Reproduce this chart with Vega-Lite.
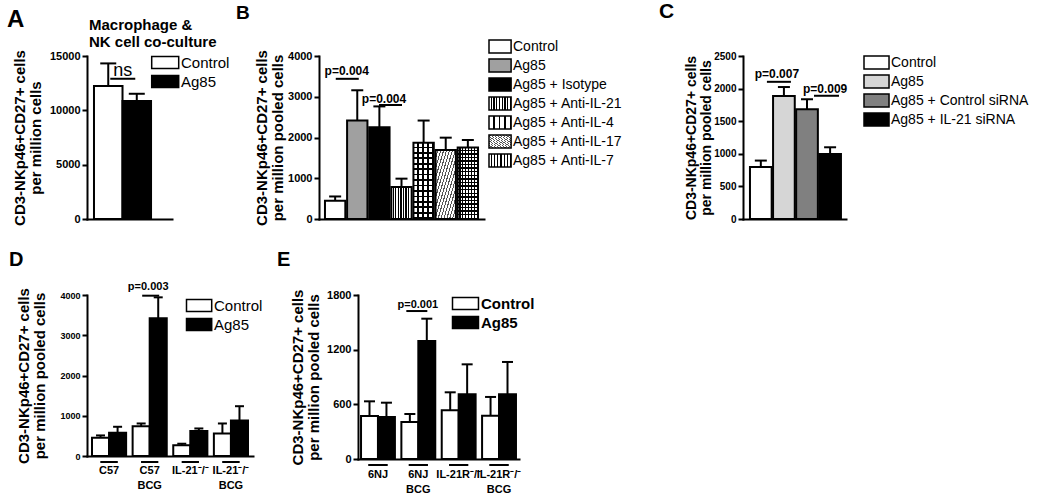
{
  "$schema": "https://vega.github.io/schema/vega-lite/v6.json",
  "background": "white",
  "padding": {"left": 7, "top": 1, "right": 2, "bottom": 2},
  "config": {
    "font": "Liberation Sans",
    "view": {"stroke": null},
    "axis": {"domainColor": "black", "domainWidth": 2, "domainCap": "square", "tickColor": "black", "tickWidth": 2, "tickSize": 5, "labelColor": "black", "labelFontWeight": "bold", "labelFontSize": 11, "labelPadding": 2, "titleColor": "black", "titleFontWeight": "bold", "titleFontSize": 15, "titleLineHeight": 16, "grid": false, "labelOverlap": false},
    "legend": {"orient": "none", "padding": 0, "symbolStrokeColor": "black", "symbolStrokeWidth": 1.5, "labelColor": "black", "labelFontSize": 15, "rowPadding": 0, "symbolOpacity": 1},
    "title": {"anchor": "start", "frame": "group", "fontWeight": "bold", "color": "black", "font": "Liberation Sans"}
  },
  "resolve": {"scale": {"fill": "independent", "xOffset": "independent", "x": "independent", "y": "independent"}, "legend": {"fill": "independent"}},
  "bounds": "full",
  "spacing": 23,
  "vconcat": [
    {
      "hconcat": [
        {
          "width": 232, "height": 163,
          "title": {"text": "A", "fontSize": 24, "dx": -80, "dy": 18},
          "data": {"values": [{"cond": "Control", "v": 12234, "err": 14318}, {"cond": "Ag85", "v": 10851, "err": 11524}]},
          "encoding": {"x": {"field": "cond", "type": "nominal", "scale": {"domain": ["Control", "Ag85"], "range": [0, 85], "paddingInner": 0, "paddingOuter": 0.49, "align": 0.25}, "axis": {"labels": false, "ticks": false, "title": null}}},
          "layer": [
            {"mark": {"type": "rule", "color": "black", "strokeWidth": 2}, "encoding": {"y": {"field": "v", "type": "quantitative", "scale": {"domain": [0, 15000], "nice": false}, "axis": {"values": [0, 5000, 10000, 15000], "format": "d", "labelOverlap": false, "title": ["CD3-NKp46+CD27+ cells", "per million cells"], "titlePadding": 6, "labelFontSize": 11}}, "y2": {"field": "err"}}},
            {"mark": {"type": "tick", "color": "black", "opacity": 1, "thickness": 2, "size": 16}, "encoding": {"y": {"field": "err", "type": "quantitative"}}},
            {"mark": {"type": "bar", "stroke": "black", "strokeWidth": 2}, "encoding": {"y": {"field": "v", "type": "quantitative"}, "fill": {"field": "cond", "type": "nominal", "scale": {"domain": ["Control", "Ag85"], "range": ["white", "black"]}, "legend": {"legendX": 2, "legendY": -38, "title": ["Macrophage &", "NK cell co-culture"], "titleFontSize": 15, "titleFontWeight": "bold", "titleLineHeight": 17, "titlePadding": 5, "titleAnchor": "start", "titleAlign": "left", "titleColor": "black", "titleLimit": 300, "symbolType": "M9.2,-1H13.7V1H9.2Z", "symbolSize": 144, "labelOffset": 77, "labelFontSize": 15}}}},
            {"data": {"values": [{}]}, "mark": {"type": "tick", "orient": "horizontal", "color": "black", "opacity": 1, "thickness": 2, "size": 25, "xOffset": -14}, "encoding": {"x": {"datum": "Ag85"}, "y": {"datum": 12906}}},
            {"data": {"values": [{}]}, "mark": {"type": "text", "text": "ns", "fontSize": 18, "color": "black", "baseline": "alphabetic", "dx": -14, "dy": -3}, "encoding": {"x": {"datum": "Ag85"}, "y": {"datum": 12906}}}
          ]
        },
        {
          "width": 424, "height": 163,
          "title": {"text": "B", "fontSize": 19, "dx": -83, "dy": -12},
          "data": {"values": [
            {"cond": "Control", "v": 450, "err": 553},
            {"cond": "Ag85", "v": 2416, "err": 3159},
            {"cond": "Ag85 + Isotype", "v": 2252, "err": 2763},
            {"cond": "Ag85 + Anti-IL-21", "v": 784, "err": 990},
            {"cond": "Ag85 + Anti-IL-4", "v": 1872, "err": 2416},
            {"cond": "Ag85 + Anti-IL-17", "v": 1691, "err": 1996},
            {"cond": "Ag85 + Anti-IL-7", "v": 1757, "err": 1938}
          ]},
          "encoding": {"x": {"field": "cond", "type": "nominal", "scale": {"domain": ["Control", "Ag85", "Ag85 + Isotype", "Ag85 + Anti-IL-21", "Ag85 + Anti-IL-4", "Ag85 + Anti-IL-17", "Ag85 + Anti-IL-7"], "range": [0, 165], "paddingInner": 0.08, "paddingOuter": 0.27}, "axis": {"labels": false, "ticks": false, "title": null}}},
          "layer": [
            {"mark": {"type": "rule", "color": "black", "strokeWidth": 2}, "encoding": {"y": {"field": "v", "type": "quantitative", "scale": {"domain": [0, 4000], "nice": false}, "axis": {"values": [0, 1000, 2000, 3000, 4000], "format": "d", "labelOverlap": false, "title": ["CD3-NKp46+CD27+ cells", "per million pooled cells"], "titlePadding": 2, "labelFontSize": 11}}, "y2": {"field": "err"}}},
            {"mark": {"type": "tick", "color": "black", "opacity": 1, "thickness": 2, "size": 12}, "encoding": {"y": {"field": "err", "type": "quantitative"}}},
            {"mark": {"type": "bar", "stroke": "black", "strokeWidth": 2}, "encoding": {"y": {"field": "v", "type": "quantitative"}, "fill": {"field": "cond", "type": "nominal", "scale": {"domain": ["Control", "Ag85", "Ag85 + Isotype", "Ag85 + Anti-IL-21", "Ag85 + Anti-IL-4", "Ag85 + Anti-IL-17", "Ag85 + Anti-IL-7"], "range": [
              "#ffffff", "#a0a0a0", "#000000",
              {"expr": "{gradient:'linear',x1:0,y1:0,x2:1,y2:0,stops:[{offset:0,color:'#fff'},{offset:0.069,color:'#fff'},{offset:0.069,color:'#000'},{offset:0.125,color:'#000'},{offset:0.125,color:'#fff'},{offset:0.194,color:'#fff'},{offset:0.194,color:'#000'},{offset:0.25,color:'#000'},{offset:0.25,color:'#fff'},{offset:0.319,color:'#fff'},{offset:0.319,color:'#000'},{offset:0.375,color:'#000'},{offset:0.375,color:'#fff'},{offset:0.444,color:'#fff'},{offset:0.444,color:'#000'},{offset:0.5,color:'#000'},{offset:0.5,color:'#fff'},{offset:0.569,color:'#fff'},{offset:0.569,color:'#000'},{offset:0.625,color:'#000'},{offset:0.625,color:'#fff'},{offset:0.694,color:'#fff'},{offset:0.694,color:'#000'},{offset:0.75,color:'#000'},{offset:0.75,color:'#fff'},{offset:0.819,color:'#fff'},{offset:0.819,color:'#000'},{offset:0.875,color:'#000'},{offset:0.875,color:'#fff'},{offset:0.944,color:'#fff'},{offset:0.944,color:'#000'},{offset:1,color:'#000'}]}"},
              {"expr": "{gradient:'linear',x1:0,y1:0,x2:1,y2:0,stops:[{offset:0,color:'#fff'},{offset:0.18,color:'#fff'},{offset:0.18,color:'#000'},{offset:0.25,color:'#000'},{offset:0.25,color:'#fff'},{offset:0.43,color:'#fff'},{offset:0.43,color:'#000'},{offset:0.5,color:'#000'},{offset:0.5,color:'#fff'},{offset:0.68,color:'#fff'},{offset:0.68,color:'#000'},{offset:0.75,color:'#000'},{offset:0.75,color:'#fff'},{offset:0.93,color:'#fff'},{offset:0.93,color:'#000'},{offset:1,color:'#000'}]}"},
              {"expr": "{gradient:'linear',x1:0,y1:0,x2:1,y2:1,stops:[{offset:0,color:'#fff'},{offset:0.045,color:'#fff'},{offset:0.045,color:'#555'},{offset:0.0714,color:'#555'},{offset:0.0714,color:'#fff'},{offset:0.1164,color:'#fff'},{offset:0.1164,color:'#555'},{offset:0.1429,color:'#555'},{offset:0.1429,color:'#fff'},{offset:0.1879,color:'#fff'},{offset:0.1879,color:'#555'},{offset:0.2143,color:'#555'},{offset:0.2143,color:'#fff'},{offset:0.2593,color:'#fff'},{offset:0.2593,color:'#555'},{offset:0.2857,color:'#555'},{offset:0.2857,color:'#fff'},{offset:0.3307,color:'#fff'},{offset:0.3307,color:'#555'},{offset:0.3571,color:'#555'},{offset:0.3571,color:'#fff'},{offset:0.4021,color:'#fff'},{offset:0.4021,color:'#555'},{offset:0.4286,color:'#555'},{offset:0.4286,color:'#fff'},{offset:0.4736,color:'#fff'},{offset:0.4736,color:'#555'},{offset:0.5,color:'#555'},{offset:0.5,color:'#fff'},{offset:0.545,color:'#fff'},{offset:0.545,color:'#555'},{offset:0.5714,color:'#555'},{offset:0.5714,color:'#fff'},{offset:0.6164,color:'#fff'},{offset:0.6164,color:'#555'},{offset:0.6429,color:'#555'},{offset:0.6429,color:'#fff'},{offset:0.6879,color:'#fff'},{offset:0.6879,color:'#555'},{offset:0.7143,color:'#555'},{offset:0.7143,color:'#fff'},{offset:0.7593,color:'#fff'},{offset:0.7593,color:'#555'},{offset:0.7857,color:'#555'},{offset:0.7857,color:'#fff'},{offset:0.8307,color:'#fff'},{offset:0.8307,color:'#555'},{offset:0.8571,color:'#555'},{offset:0.8571,color:'#fff'},{offset:0.9021,color:'#fff'},{offset:0.9021,color:'#555'},{offset:0.9286,color:'#555'},{offset:0.9286,color:'#fff'},{offset:0.9736,color:'#fff'},{offset:0.9736,color:'#555'},{offset:1,color:'#555'}]}"},
              {"expr": "{gradient:'linear',x1:0,y1:0,x2:1,y2:0,stops:[{offset:0,color:'#fff'},{offset:0.086,color:'#fff'},{offset:0.086,color:'#000'},{offset:0.143,color:'#000'},{offset:0.143,color:'#fff'},{offset:0.229,color:'#fff'},{offset:0.229,color:'#000'},{offset:0.286,color:'#000'},{offset:0.286,color:'#fff'},{offset:0.371,color:'#fff'},{offset:0.371,color:'#000'},{offset:0.429,color:'#000'},{offset:0.429,color:'#fff'},{offset:0.514,color:'#fff'},{offset:0.514,color:'#000'},{offset:0.571,color:'#000'},{offset:0.571,color:'#fff'},{offset:0.657,color:'#fff'},{offset:0.657,color:'#000'},{offset:0.714,color:'#000'},{offset:0.714,color:'#fff'},{offset:0.8,color:'#fff'},{offset:0.8,color:'#000'},{offset:0.857,color:'#000'},{offset:0.857,color:'#fff'},{offset:0.943,color:'#fff'},{offset:0.943,color:'#000'},{offset:1,color:'#000'}]}"}
            ]}, "legend": {"legendX": 169, "legendY": -17, "title": null, "symbolType": "M-1,-1H2.4V1H-1Z", "symbolSize": 169, "labelOffset": 10, "labelFontSize": 14}}}},
            {"transform": [{"filter": "datum.cond === 'Ag85 + Anti-IL-4'"}], "mark": {"type": "bar", "strokeWidth": 0, "fill": {"gradient": "linear", "x1": 1, "y1": 0, "x2": 1, "y2": 1, "stops": [
              {"offset": 0, "color": "rgba(0,0,0,0)"}, {"offset": 0.05, "color": "rgba(0,0,0,0)"}, {"offset": 0.05, "color": "#000"}, {"offset": 0.0714, "color": "#000"},
              {"offset": 0.0714, "color": "rgba(0,0,0,0)"}, {"offset": 0.1214, "color": "rgba(0,0,0,0)"}, {"offset": 0.1214, "color": "#000"}, {"offset": 0.1429, "color": "#000"},
              {"offset": 0.1429, "color": "rgba(0,0,0,0)"}, {"offset": 0.1929, "color": "rgba(0,0,0,0)"}, {"offset": 0.1929, "color": "#000"}, {"offset": 0.2143, "color": "#000"},
              {"offset": 0.2143, "color": "rgba(0,0,0,0)"}, {"offset": 0.2643, "color": "rgba(0,0,0,0)"}, {"offset": 0.2643, "color": "#000"}, {"offset": 0.2857, "color": "#000"},
              {"offset": 0.2857, "color": "rgba(0,0,0,0)"}, {"offset": 0.3357, "color": "rgba(0,0,0,0)"}, {"offset": 0.3357, "color": "#000"}, {"offset": 0.3571, "color": "#000"},
              {"offset": 0.3571, "color": "rgba(0,0,0,0)"}, {"offset": 0.4071, "color": "rgba(0,0,0,0)"}, {"offset": 0.4071, "color": "#000"}, {"offset": 0.4286, "color": "#000"},
              {"offset": 0.4286, "color": "rgba(0,0,0,0)"}, {"offset": 0.4786, "color": "rgba(0,0,0,0)"}, {"offset": 0.4786, "color": "#000"}, {"offset": 0.5, "color": "#000"},
              {"offset": 0.5, "color": "rgba(0,0,0,0)"}, {"offset": 0.55, "color": "rgba(0,0,0,0)"}, {"offset": 0.55, "color": "#000"}, {"offset": 0.5714, "color": "#000"},
              {"offset": 0.5714, "color": "rgba(0,0,0,0)"}, {"offset": 0.6214, "color": "rgba(0,0,0,0)"}, {"offset": 0.6214, "color": "#000"}, {"offset": 0.6429, "color": "#000"},
              {"offset": 0.6429, "color": "rgba(0,0,0,0)"}, {"offset": 0.6929, "color": "rgba(0,0,0,0)"}, {"offset": 0.6929, "color": "#000"}, {"offset": 0.7143, "color": "#000"},
              {"offset": 0.7143, "color": "rgba(0,0,0,0)"}, {"offset": 0.7643, "color": "rgba(0,0,0,0)"}, {"offset": 0.7643, "color": "#000"}, {"offset": 0.7857, "color": "#000"},
              {"offset": 0.7857, "color": "rgba(0,0,0,0)"}, {"offset": 0.8357, "color": "rgba(0,0,0,0)"}, {"offset": 0.8357, "color": "#000"}, {"offset": 0.8571, "color": "#000"},
              {"offset": 0.8571, "color": "rgba(0,0,0,0)"}, {"offset": 0.9071, "color": "rgba(0,0,0,0)"}, {"offset": 0.9071, "color": "#000"}, {"offset": 0.9286, "color": "#000"},
              {"offset": 0.9286, "color": "rgba(0,0,0,0)"}, {"offset": 0.9786, "color": "rgba(0,0,0,0)"}, {"offset": 0.9786, "color": "#000"}, {"offset": 1, "color": "#000"}
            ]}}, "encoding": {"y": {"field": "v", "type": "quantitative"}}},
            {"transform": [{"filter": "datum.cond === 'Ag85 + Anti-IL-7'"}], "mark": {"type": "bar", "strokeWidth": 0, "fill": {"gradient": "linear", "x1": 1, "y1": 0, "x2": 1, "y2": 1, "stops": [
              {"offset": 0, "color": "rgba(0,0,0,0)"}, {"offset": 0.03, "color": "rgba(0,0,0,0)"}, {"offset": 0.03, "color": "#000"}, {"offset": 0.05, "color": "#000"},
              {"offset": 0.05, "color": "rgba(0,0,0,0)"}, {"offset": 0.08, "color": "rgba(0,0,0,0)"}, {"offset": 0.08, "color": "#000"}, {"offset": 0.1, "color": "#000"},
              {"offset": 0.1, "color": "rgba(0,0,0,0)"}, {"offset": 0.13, "color": "rgba(0,0,0,0)"}, {"offset": 0.13, "color": "#000"}, {"offset": 0.15, "color": "#000"},
              {"offset": 0.15, "color": "rgba(0,0,0,0)"}, {"offset": 0.18, "color": "rgba(0,0,0,0)"}, {"offset": 0.18, "color": "#000"}, {"offset": 0.2, "color": "#000"},
              {"offset": 0.2, "color": "rgba(0,0,0,0)"}, {"offset": 0.23, "color": "rgba(0,0,0,0)"}, {"offset": 0.23, "color": "#000"}, {"offset": 0.25, "color": "#000"},
              {"offset": 0.25, "color": "rgba(0,0,0,0)"}, {"offset": 0.28, "color": "rgba(0,0,0,0)"}, {"offset": 0.28, "color": "#000"}, {"offset": 0.3, "color": "#000"},
              {"offset": 0.3, "color": "rgba(0,0,0,0)"}, {"offset": 0.33, "color": "rgba(0,0,0,0)"}, {"offset": 0.33, "color": "#000"}, {"offset": 0.35, "color": "#000"},
              {"offset": 0.35, "color": "rgba(0,0,0,0)"}, {"offset": 0.38, "color": "rgba(0,0,0,0)"}, {"offset": 0.38, "color": "#000"}, {"offset": 0.4, "color": "#000"},
              {"offset": 0.4, "color": "rgba(0,0,0,0)"}, {"offset": 0.43, "color": "rgba(0,0,0,0)"}, {"offset": 0.43, "color": "#000"}, {"offset": 0.45, "color": "#000"},
              {"offset": 0.45, "color": "rgba(0,0,0,0)"}, {"offset": 0.48, "color": "rgba(0,0,0,0)"}, {"offset": 0.48, "color": "#000"}, {"offset": 0.5, "color": "#000"},
              {"offset": 0.5, "color": "rgba(0,0,0,0)"}, {"offset": 0.53, "color": "rgba(0,0,0,0)"}, {"offset": 0.53, "color": "#000"}, {"offset": 0.55, "color": "#000"},
              {"offset": 0.55, "color": "rgba(0,0,0,0)"}, {"offset": 0.58, "color": "rgba(0,0,0,0)"}, {"offset": 0.58, "color": "#000"}, {"offset": 0.6, "color": "#000"},
              {"offset": 0.6, "color": "rgba(0,0,0,0)"}, {"offset": 0.63, "color": "rgba(0,0,0,0)"}, {"offset": 0.63, "color": "#000"}, {"offset": 0.65, "color": "#000"},
              {"offset": 0.65, "color": "rgba(0,0,0,0)"}, {"offset": 0.68, "color": "rgba(0,0,0,0)"}, {"offset": 0.68, "color": "#000"}, {"offset": 0.7, "color": "#000"},
              {"offset": 0.7, "color": "rgba(0,0,0,0)"}, {"offset": 0.73, "color": "rgba(0,0,0,0)"}, {"offset": 0.73, "color": "#000"}, {"offset": 0.75, "color": "#000"},
              {"offset": 0.75, "color": "rgba(0,0,0,0)"}, {"offset": 0.78, "color": "rgba(0,0,0,0)"}, {"offset": 0.78, "color": "#000"}, {"offset": 0.8, "color": "#000"},
              {"offset": 0.8, "color": "rgba(0,0,0,0)"}, {"offset": 0.83, "color": "rgba(0,0,0,0)"}, {"offset": 0.83, "color": "#000"}, {"offset": 0.85, "color": "#000"},
              {"offset": 0.85, "color": "rgba(0,0,0,0)"}, {"offset": 0.88, "color": "rgba(0,0,0,0)"}, {"offset": 0.88, "color": "#000"}, {"offset": 0.9, "color": "#000"},
              {"offset": 0.9, "color": "rgba(0,0,0,0)"}, {"offset": 0.93, "color": "rgba(0,0,0,0)"}, {"offset": 0.93, "color": "#000"}, {"offset": 0.95, "color": "#000"},
              {"offset": 0.95, "color": "rgba(0,0,0,0)"}, {"offset": 0.98, "color": "rgba(0,0,0,0)"}, {"offset": 0.98, "color": "#000"}, {"offset": 1, "color": "#000"}
            ]}}, "encoding": {"y": {"field": "v", "type": "quantitative"}}},
            {"data": {"values": [{}]}, "mark": {"type": "tick", "orient": "horizontal", "color": "black", "opacity": 1, "thickness": 2, "size": 23, "xOffset": -10}, "encoding": {"x": {"datum": "Ag85"}, "y": {"datum": 3440}}},
            {"data": {"values": [{}]}, "mark": {"type": "text", "text": "p=0.004", "fontSize": 12, "fontWeight": "bold", "color": "black", "baseline": "alphabetic", "dx": -10.5, "dy": -3.5}, "encoding": {"x": {"datum": "Ag85"}, "y": {"datum": 3440}}},
            {"data": {"values": [{}]}, "mark": {"type": "tick", "orient": "horizontal", "color": "black", "opacity": 1, "thickness": 2, "size": 23, "xOffset": -11}, "encoding": {"x": {"datum": "Ag85 + Anti-IL-21"}, "y": {"datum": 2797}}},
            {"data": {"values": [{}]}, "mark": {"type": "text", "text": "p=0.004", "fontSize": 12, "fontWeight": "bold", "color": "black", "baseline": "alphabetic", "dx": -17.5, "dy": -2}, "encoding": {"x": {"datum": "Ag85 + Anti-IL-21"}, "y": {"datum": 2797}}}
          ]
        },
        {
          "width": 103, "height": 163,
          "title": {"text": "C", "fontSize": 21, "dx": -84, "dy": -25},
          "data": {"values": [
            {"cond": "Control", "v": 796, "err": 896},
            {"cond": "Ag85", "v": 1886, "err": 2024},
            {"cond": "Ag85 + Control siRNA", "v": 1682, "err": 1838},
            {"cond": "Ag85 + IL-21 siRNA", "v": 998, "err": 1100}
          ]},
          "encoding": {"x": {"field": "cond", "type": "nominal", "scale": {"domain": ["Control", "Ag85", "Ag85 + Control siRNA", "Ag85 + IL-21 siRNA"], "paddingInner": 0.06, "paddingOuter": 0.26, "align": 0.58}, "axis": {"labels": false, "ticks": false, "title": null}}},
          "layer": [
            {"mark": {"type": "rule", "color": "black", "strokeWidth": 2}, "encoding": {"y": {"field": "v", "type": "quantitative", "scale": {"domain": [0, 2500], "nice": false}, "axis": {"values": [0, 500, 1000, 1500, 2000, 2500], "tickCount": 6, "format": "d", "labelOverlap": false, "labelSeparation": 0, "title": ["CD3-NKp46+CD27+ cells", "per million pooled cells"], "titlePadding": 0, "labelFontSize": 10, "titleFontSize": 14, "titleLineHeight": 15}}, "y2": {"field": "err"}}},
            {"mark": {"type": "tick", "color": "black", "opacity": 1, "thickness": 2, "size": 12}, "encoding": {"y": {"field": "err", "type": "quantitative"}}},
            {"mark": {"type": "bar", "stroke": "black", "strokeWidth": 2}, "encoding": {"y": {"field": "v", "type": "quantitative"}, "fill": {"field": "cond", "type": "nominal", "scale": {"domain": ["Control", "Ag85", "Ag85 + Control siRNA", "Ag85 + IL-21 siRNA"], "range": ["#ffffff", "#d6d6d6", "#808080", "#000000"]}, "legend": {"legendX": 120, "legendY": -1, "title": null, "symbolType": "M-1,-1H2.85V1H-1Z", "symbolSize": 169, "labelOffset": 13, "labelFontSize": 14}}}},
            {"data": {"values": [{}]}, "mark": {"type": "tick", "orient": "horizontal", "color": "black", "opacity": 1, "thickness": 2, "size": 24, "xOffset": -5}, "encoding": {"x": {"datum": "Ag85"}, "y": {"datum": 2104}}},
            {"data": {"values": [{}]}, "mark": {"type": "text", "text": "p=0.007", "fontSize": 12, "fontWeight": "bold", "color": "black", "baseline": "alphabetic", "dx": -7, "dy": -4}, "encoding": {"x": {"datum": "Ag85"}, "y": {"datum": 2104}}},
            {"data": {"values": [{}]}, "mark": {"type": "tick", "orient": "horizontal", "color": "black", "opacity": 1, "thickness": 2, "size": 25, "xOffset": -3.6}, "encoding": {"x": {"datum": "Ag85 + IL-21 siRNA"}, "y": {"datum": 1890}}},
            {"data": {"values": [{}]}, "mark": {"type": "text", "text": "p=0.009", "fontSize": 12, "fontWeight": "bold", "color": "black", "baseline": "alphabetic", "dx": -5, "dy": -2.5}, "encoding": {"x": {"datum": "Ag85 + IL-21 siRNA"}, "y": {"datum": 1890}}}
          ]
        }
      ],
      "bounds": "flush",
      "spacing": 0,
      "resolve": {"scale": {"fill": "independent", "x": "independent", "y": "independent"}, "legend": {"fill": "independent"}}
    },
    {
      "hconcat": [
        {
          "width": 271, "height": 161,
          "title": {"text": "D", "fontSize": 20, "dx": -78, "dy": -7},
          "data": {"values": [
            {"grp": "C57", "cond": "Control", "v": 454, "err": 511},
            {"grp": "C57", "cond": "Ag85", "v": 577, "err": 726},
            {"grp": "C57 BCG", "cond": "Control", "v": 742, "err": 808},
            {"grp": "C57 BCG", "cond": "Ag85", "v": 3423, "err": 3942},
            {"grp": "IL-21⁻/⁻", "cond": "Control", "v": 264, "err": 305},
            {"grp": "IL-21⁻/⁻", "cond": "Ag85", "v": 619, "err": 684},
            {"grp": "IL-21⁻/⁻ BCG", "cond": "Control", "v": 561, "err": 808},
            {"grp": "IL-21⁻/⁻ BCG", "cond": "Ag85", "v": 882, "err": 1237}
          ]},
          "encoding": {
            "x": {"field": "grp", "type": "nominal", "scale": {"domain": ["C57", "C57 BCG", "IL-21⁻/⁻", "IL-21⁻/⁻ BCG"], "range": [0, 166], "paddingInner": 0.16, "paddingOuter": 0.123}, "axis": {"labelExpr": "split(datum.label, ' ')", "labelFontSize": 11, "labelLineHeight": 15, "labelPadding": 8, "ticks": false, "tickSize": 0, "title": null, "labelAngle": 0, "labelBaseline": "top", "labelOverlap": false}}
          },
          "layer": [
            {"mark": {"type": "rule", "color": "black", "strokeWidth": 2}, "encoding": {"xOffset": {"field": "cond", "type": "nominal", "scale": {"domain": ["Control", "Ag85"]}}, "y": {"field": "v", "type": "quantitative", "scale": {"domain": [0, 4000], "nice": false}, "axis": {"values": [0, 1000, 2000, 3000, 4000], "format": "d", "labelOverlap": false, "title": ["CD3-NKp46+CD27+ cells", "per million pooled cells"], "titlePadding": 12, "labelFontSize": 9}}, "y2": {"field": "err"}}},
            {"mark": {"type": "tick", "color": "black", "opacity": 1, "thickness": 2, "size": 9}, "encoding": {"xOffset": {"field": "cond", "type": "nominal", "scale": {"domain": ["Control", "Ag85"]}}, "y": {"field": "err", "type": "quantitative"}}},
            {"mark": {"type": "bar", "stroke": "black", "strokeWidth": 2}, "encoding": {"xOffset": {"field": "cond", "type": "nominal", "scale": {"domain": ["Control", "Ag85"]}}, "y": {"field": "v", "type": "quantitative"}, "fill": {"field": "cond", "type": "nominal", "scale": {"domain": ["Control", "Ag85"], "range": ["white", "black"]}, "legend": {"legendX": 98, "legendY": 3, "title": null, "symbolType": "M-1,-1H3.2V1H-1Z", "symbolSize": 144, "labelOffset": 14, "labelFontSize": 15}}}},
            {"mark": {"type": "tick", "orient": "horizontal", "color": "black", "opacity": 1, "thickness": 2, "size": 17, "yOffset": 6}, "encoding": {"y": {"datum": 0}}},
            {"data": {"values": [{}]}, "mark": {"type": "tick", "orient": "horizontal", "color": "black", "opacity": 1, "thickness": 2, "size": 17, "xOffset": 1}, "encoding": {"x": {"datum": "C57 BCG"}, "y": {"datum": 3983}}},
            {"data": {"values": [{}]}, "mark": {"type": "text", "text": "p=0.003", "fontSize": 11, "fontWeight": "bold", "color": "black", "baseline": "alphabetic", "dx": -1.5, "dy": -6}, "encoding": {"x": {"datum": "C57 BCG"}, "y": {"datum": 3983}}}
          ]
        },
        {
          "width": 161, "height": 164,
          "title": {"text": "E", "fontSize": 20, "dx": -81, "dy": -15},
          "data": {"values": [
            {"grp": "6NJ", "cond": "Control", "v": 472, "err": 633},
            {"grp": "6NJ", "cond": "Ag85", "v": 461, "err": 618},
            {"grp": "6NJ BCG", "cond": "Control", "v": 406, "err": 494},
            {"grp": "6NJ BCG", "cond": "Ag85", "v": 1295, "err": 1540},
            {"grp": "IL-21R⁻/⁻", "cond": "Control", "v": 534, "err": 732},
            {"grp": "IL-21R⁻/⁻", "cond": "Ag85", "v": 710, "err": 1039},
            {"grp": "IL-21R⁻/⁻ BCG", "cond": "Control", "v": 476, "err": 681},
            {"grp": "IL-21R⁻/⁻ BCG", "cond": "Ag85", "v": 710, "err": 1065}
          ]},
          "encoding": {
            "x": {"field": "grp", "type": "nominal", "scale": {"domain": ["6NJ", "6NJ BCG", "IL-21R⁻/⁻", "IL-21R⁻/⁻ BCG"], "paddingInner": 0.16, "paddingOuter": 0.075}, "axis": {"labelExpr": "split(datum.label, ' ')", "labelFontSize": 11, "labelLineHeight": 15, "labelPadding": 9, "ticks": false, "tickSize": 0, "title": null, "labelAngle": 0, "labelBaseline": "top", "labelOverlap": false}}
          },
          "layer": [
            {"mark": {"type": "rule", "color": "black", "strokeWidth": 2}, "encoding": {"xOffset": {"field": "cond", "type": "nominal", "scale": {"domain": ["Control", "Ag85"]}}, "y": {"field": "v", "type": "quantitative", "scale": {"domain": [0, 1800], "nice": false}, "axis": {"values": [0, 600, 1200, 1800], "format": "d", "labelOverlap": false, "title": ["CD3-NKp46+CD27+ cells", "per million pooled cells"], "titlePadding": 5, "labelFontSize": 11}}, "y2": {"field": "err"}}},
            {"mark": {"type": "tick", "color": "black", "opacity": 1, "thickness": 2, "size": 11}, "encoding": {"xOffset": {"field": "cond", "type": "nominal", "scale": {"domain": ["Control", "Ag85"]}}, "y": {"field": "err", "type": "quantitative"}}},
            {"mark": {"type": "bar", "stroke": "black", "strokeWidth": 2}, "encoding": {"xOffset": {"field": "cond", "type": "nominal", "scale": {"domain": ["Control", "Ag85"]}}, "y": {"field": "v", "type": "quantitative"}, "fill": {"field": "cond", "type": "nominal", "scale": {"domain": ["Control", "Ag85"], "range": ["white", "black"]}, "legend": {"legendX": 93, "legendY": 1, "title": null, "symbolType": "M-1,-1H3.33V1H-1Z", "symbolSize": 144, "labelOffset": 15, "labelFontSize": 15, "labelFontWeight": "bold"}}}},
            {"mark": {"type": "tick", "orient": "horizontal", "color": "black", "opacity": 1, "thickness": 2, "size": 19, "yOffset": 6}, "encoding": {"y": {"datum": 0}}},
            {"data": {"values": [{}]}, "mark": {"type": "tick", "orient": "horizontal", "color": "black", "opacity": 1, "thickness": 2, "size": 21, "xOffset": -1.5}, "encoding": {"x": {"datum": "6NJ BCG"}, "y": {"datum": 1624}}},
            {"data": {"values": [{}]}, "mark": {"type": "text", "text": "p=0.001", "fontSize": 11, "fontWeight": "bold", "color": "black", "baseline": "alphabetic", "dx": -0.5, "dy": -3}, "encoding": {"x": {"datum": "6NJ BCG"}, "y": {"datum": 1624}}}
          ]
        }
      ],
      "bounds": "flush",
      "spacing": 0,
      "resolve": {"scale": {"fill": "independent", "xOffset": "independent", "x": "independent", "y": "independent"}, "legend": {"fill": "independent"}}
    }
  ]
}
